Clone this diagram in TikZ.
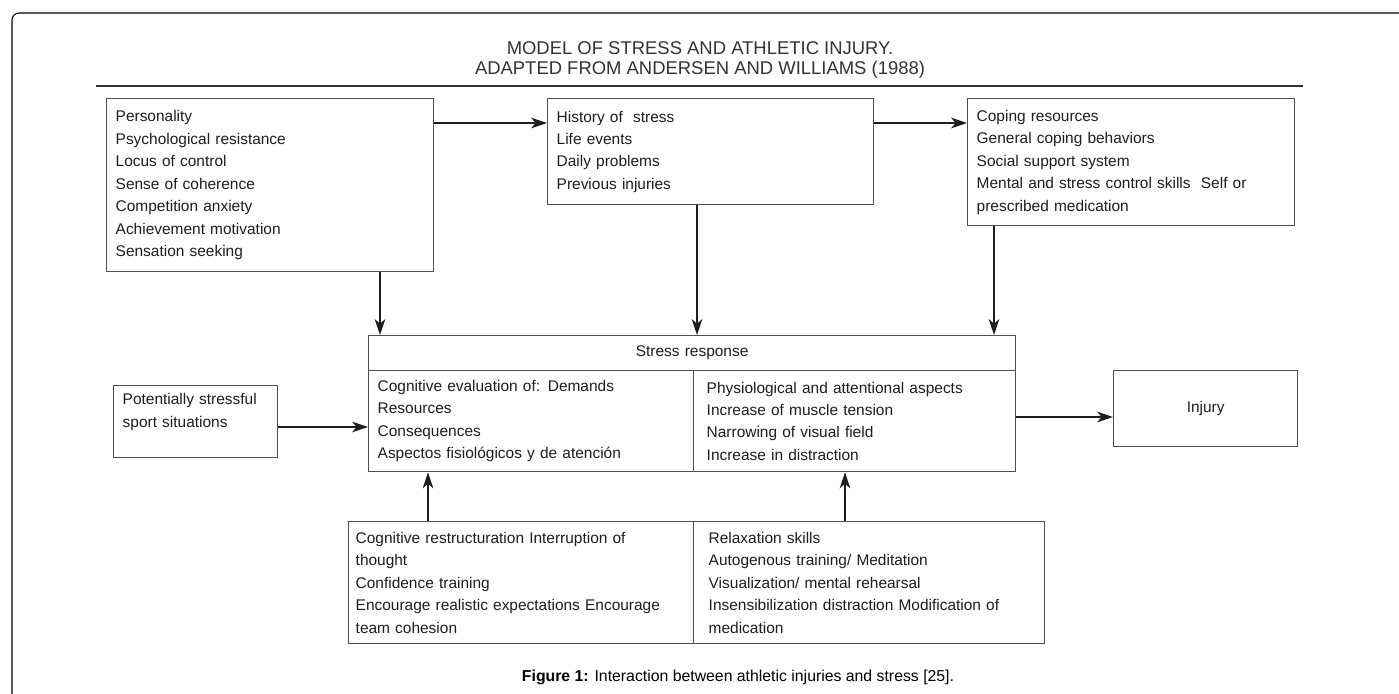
\documentclass[tikz,border=0pt]{standalone}
\usepackage{fontspec}
\setmainfont{Liberation Sans}
\usetikzlibrary{arrows.meta}

\definecolor{framegray}{HTML}{333333}
\definecolor{boxgray}{HTML}{505050}
\definecolor{inkgray}{HTML}{1E1E1E}

\tikzset{%
  factor/.style={
    rectangle,
    draw=boxgray,
    line width=0.8pt,
    anchor=north west,
    align=left,
    inner xsep=0.18cm,
    inner ysep=0pt,
    text=inkgray,
    font=\fontsize{8.8}{12.76}\selectfont
  },
  factor centred/.style={
    factor,
    align=center
  },
  flow/.style={
    draw=inkgray,
    line width=1.1pt,
    -{Stealth[length=9pt,width=6pt,inset=2.5pt]}
  },
}

\begin{document}
\begin{tikzpicture}[x=0.02cm, y=-0.02cm]
\useasboundingbox (0,0) rectangle (1399,693);
\fill[white] (0,0) rectangle (1399,693);
\draw[line width=0.6pt, rounded corners=0.14cm] (12,720) -- (12,13) -- (1420,13);

% heading
\node[font=\fontsize{10.5}{11.3}\selectfont, text=framegray, align=center] (title) at (700,60)
  {MODEL OF STRESS AND ATHLETIC INJURY.\\ADAPTED FROM ANDERSEN AND WILLIAMS (1988)};
\coordinate (ruleL) at (96,86);
\coordinate (ruleR) at (1303,86);
\draw[draw=framegray, line width=1.3pt] (ruleL) -- (ruleR);

% top row
\node[factor, text width=6.18cm, minimum height=3.46cm] (pers) at (106,98)
  {Personality\\Psychological resistance\\Locus of control\\Sense of coherence\\Competition anxiety\\Achievement motivation\\Sensation seeking};
\node[factor, text width=6.16cm, minimum height=2.12cm] (hist) at (547,98)
  {History of\ \ stress\\Life events\\Daily problems\\Previous injuries};
\node[factor, text width=6.18cm, minimum height=2.54cm] (cope) at (967,98)
  {Coping resources\\General coping behaviors\\Social support system\\Mental and stress control skills\ \ Self or\\prescribed medication};

% stress response
\node[factor centred, text width=12.58cm, minimum height=0.7cm] (hdr) at (368,335) {Stress response};
\node[factor, text width=6.14cm, minimum height=2.02cm] (cogn) at (368,370)
  {Cognitive evaluation of: Demands\\Resources\\Consequences\\Aspectos fisiológicos y de atención};
\node[factor, inner xsep=0.26cm, text width=5.92cm, minimum height=2.02cm] (phys) at (693,370)
  {Physiological and attentional aspects\\Increase of muscle tension\\Narrowing of visual field\\Increase in distraction};

\node[factor, text width=2.92cm, minimum height=1.44cm] (pot) at (113,385)
  {Potentially stressful\\sport situations\\~};
\node[factor centred, text width=3.32cm, minimum height=1.52cm] (injury) at (1113,370) {Injury};

% interventions
\node[factor, inner xsep=0.14cm, text width=6.62cm, minimum height=2.44cm] (cogtech) at (348,521)
  {Cognitive restructuration Interruption of\\thought\\Confidence training\\Encourage realistic expectations Encourage\\team cohesion};
\node[factor, inner xsep=0.3cm, text width=6.42cm, minimum height=2.44cm] (relax) at (693,521)
  {Relaxation skills\\Autogenous training/ Meditation\\Visualization/ mental rehearsal\\Insensibilization distraction Modification of\\medication};

\node[font=\fontsize{9}{11}\selectfont, text=black] (caption) at (738,677)
  {\textbf{Figure 1:} Interaction between athletic injuries and stress [25].};

% arrows
\coordinate (toprow) at (0,123);
\coordinate (persdown) at (380,0);
\coordinate (histdown) at (697,0);
\coordinate (copedown) at (994,0);
\coordinate (potarr) at (0,427);
\coordinate (injarr) at (0,417);
\coordinate (upleft) at (428,0);
\coordinate (upright) at (845,0);

\draw[flow] (pers.east |- toprow) -- (hist.west |- toprow);
\draw[flow] (hist.east |- toprow) -- (cope.west |- toprow);
\draw[flow] (pers.south -| persdown) -- (hdr.north -| persdown);
\draw[flow] (hist.south -| histdown) -- (hdr.north -| histdown);
\draw[flow] (cope.south -| copedown) -- (hdr.north -| copedown);
\draw[flow] (pot.east |- potarr) -- (cogn.west |- potarr);
\draw[flow] (phys.east |- injarr) -- (injury.west |- injarr);
\draw[flow] (cogtech.north -| upleft) -- (cogn.south -| upleft);
\draw[flow] (relax.north -| upright) -- (phys.south -| upright);
\end{tikzpicture}
\end{document}
